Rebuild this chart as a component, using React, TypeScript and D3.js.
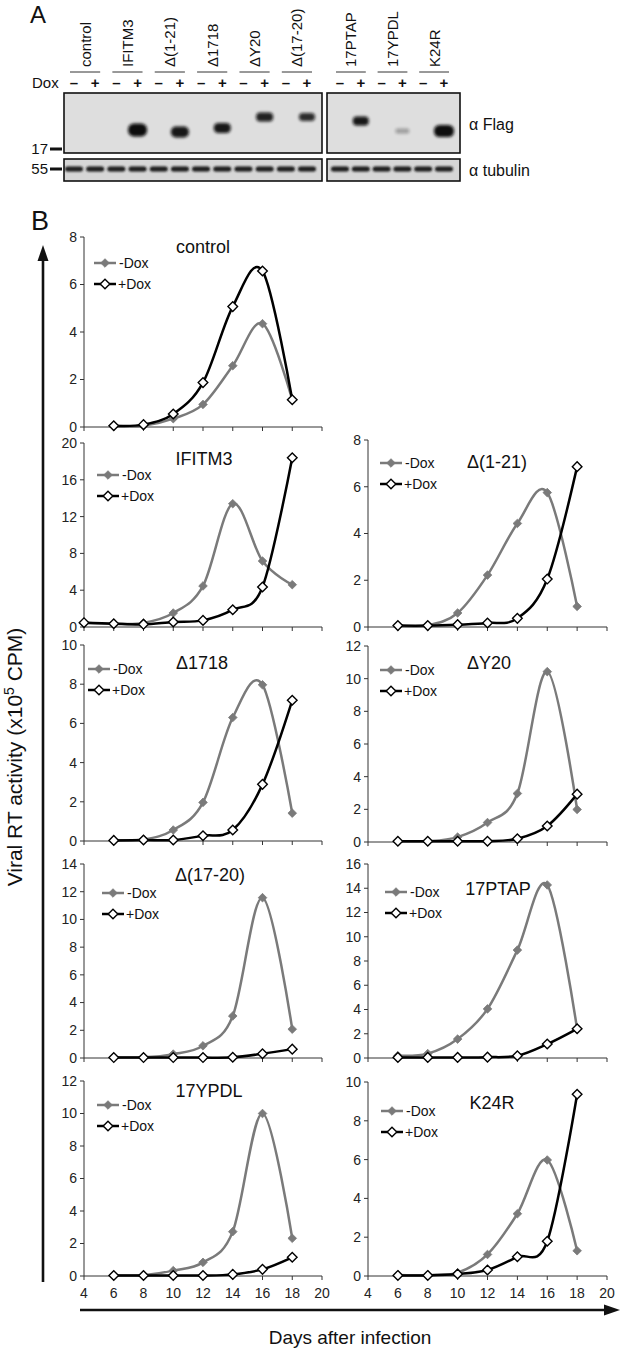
import React from "react";
import * as d3 from "d3";

// ---------------- DATA ----------------
const DAYS = [6, 8, 10, 12, 14, 16, 18];
const DAYS_IFITM3 = [4, 6, 8, 10, 12, 14, 16, 18];
const X_TICKS = [4, 6, 8, 10, 12, 14, 16, 18, 20];

const controlMinus = [0.05, 0.05, 0.35, 0.95, 2.58, 4.35, 1.15];
const controlPlus = [0.05, 0.1, 0.55, 1.87, 5.07, 6.57, 1.15];
const ifitm3Minus = [0.47, 0.36, 0.45, 1.52, 4.46, 13.4, 7.17, 4.6];
const ifitm3Plus = [0.47, 0.36, 0.29, 0.54, 0.72, 1.88, 4.35, 18.4];
const d121Minus = [0.05, 0.07, 0.6, 2.22, 4.43, 5.75, 0.88];
const d121Plus = [0.06, 0.06, 0.1, 0.17, 0.37, 2.05, 6.86];
const d1718Minus = [0.05, 0.08, 0.56, 1.97, 6.3, 7.97, 1.42];
const d1718Plus = [0.03, 0.05, 0.05, 0.27, 0.56, 2.89, 7.18];
const dY20Minus = [0.05, 0.05, 0.3, 1.19, 2.97, 10.43, 1.99];
const dY20Plus = [0.05, 0.05, 0.05, 0.05, 0.2, 0.98, 2.93];
const d1720Minus = [0.05, 0.05, 0.28, 0.88, 3.03, 11.57, 2.08];
const d1720Plus = [0.03, 0.03, 0.03, 0.03, 0.05, 0.31, 0.64];
const ptapMinus = [0.19, 0.36, 1.56, 4.05, 8.9, 14.27, 2.38];
const ptapPlus = [0.05, 0.05, 0.05, 0.07, 0.19, 1.15, 2.41];
const ypdlMinus = [0.05, 0.05, 0.33, 0.84, 2.73, 10.0, 2.32];
const ypdlPlus = [0.03, 0.03, 0.03, 0.03, 0.1, 0.41, 1.15];
const k24rMinus = [0.05, 0.05, 0.17, 1.11, 3.21, 5.98, 1.3];
const k24rPlus = [0.03, 0.03, 0.1, 0.31, 0.99, 1.79, 9.37];

const PANEL_TITLES = ["control", "IFITM3", "Δ(1-21)", "Δ1718", "ΔY20", "Δ(17-20)", "17PTAP", "17YPDL", "K24R"];
const PANEL_YMAX = [8, 20, 8, 10, 12, 14, 16, 12, 10];
const PANEL_YSTEP = [2, 4, 2, 2, 2, 2, 2, 2, 2];
const PANEL_DAYS = [DAYS, DAYS_IFITM3, DAYS, DAYS, DAYS, DAYS, DAYS, DAYS, DAYS];
const PANEL_MINUS = [controlMinus, ifitm3Minus, d121Minus, d1718Minus, dY20Minus, d1720Minus, ptapMinus, ypdlMinus, k24rMinus];
const PANEL_PLUS = [controlPlus, ifitm3Plus, d121Plus, d1718Plus, dY20Plus, d1720Plus, ptapPlus, ypdlPlus, k24rPlus];

// Blot (panel A)
const BLOT_GROUPS = ["control", "IFITM3", "Δ(1-21)", "Δ1718", "ΔY20", "Δ(17-20)", "17PTAP", "17YPDL", "K24R"];
// Flag band per + lane: relative intensity (0 = none)
const FLAG_INTENSITY = [0, 1, 0.95, 0.95, 0.9, 0.85, 0.95, 0.3, 1];

// ---------------- LAYOUT ----------------
const LEFT_X0 = 84, LEFT_X1 = 322;
const RIGHT_X0 = 368, RIGHT_X1 = 607;
const PANEL_LAYOUT = [
  { col: 0, top: 237, zero: 427, tx: 203, ty: 253, lx: 94, ly: 263 },
  { col: 0, top: 443, zero: 627, tx: 204, ty: 465, lx: 97, ly: 475 },
  { col: 1, top: 440, zero: 627, tx: 497, ty: 468, lx: 380, ly: 463 },
  { col: 0, top: 645, zero: 841, tx: 202, ty: 669, lx: 88, ly: 669 },
  { col: 1, top: 646, zero: 842, tx: 489, ty: 669, lx: 380, ly: 670 },
  { col: 0, top: 864, zero: 1058, tx: 210, ty: 881, lx: 102, ly: 893 },
  { col: 1, top: 864, zero: 1058, tx: 498, ty: 895, lx: 385, ly: 892 },
  { col: 0, top: 1081, zero: 1276, tx: 209, ty: 1097, lx: 97, ly: 1105 },
  { col: 1, top: 1082, zero: 1276, tx: 492, ty: 1109, lx: 381, ly: 1111 },
];

const FONT = "'Liberation Sans', Arial, Helvetica, sans-serif";
const GRAY = "#7a7a7a";

function Diamond({ x, y, filled }: { x: number; y: number; filled: boolean }) {
  const r = filled ? 4.3 : 4.8;
  const d = `M${x},${y - r}L${x + r},${y}L${x},${y + r}L${x - r},${y}Z`;
  return filled ? (
    <path d={d} fill={GRAY} stroke={GRAY} strokeWidth={0.8} />
  ) : (
    <path d={d} fill="#fff" stroke="#000" strokeWidth={1.4} />
  );
}

function Panel({ i }: { i: number }) {
  const L = PANEL_LAYOUT[i];
  const x0 = L.col === 0 ? LEFT_X0 : RIGHT_X0;
  const x1 = L.col === 0 ? LEFT_X1 : RIGHT_X1;
  const x = d3.scaleLinear().domain([4, 20]).range([x0, x1]);
  const y = d3.scaleLinear().domain([0, PANEL_YMAX[i]]).range([L.zero, L.top]);
  const yTicks = d3.range(0, PANEL_YMAX[i] + 0.001, PANEL_YSTEP[i]);
  const days = PANEL_DAYS[i];
  const line = d3
    .line<number>()
    .x((_, k) => x(days[k]))
    .y((v) => y(v))
    .curve(d3.curveCardinal.tension(0));
  const minus = PANEL_MINUS[i];
  const plus = PANEL_PLUS[i];
  const bottom = i >= 7;
  return (
    <g>
      <line x1={x0} x2={x0} y1={L.top} y2={L.zero} stroke="#333" strokeWidth={1} />
      <line x1={x0} x2={x1} y1={L.zero} y2={L.zero} stroke="#333" strokeWidth={1} />
      {yTicks.map((t) => (
        <g key={"y" + t}>
          <line x1={x0 - 4} x2={x0} y1={y(t)} y2={y(t)} stroke="#333" strokeWidth={1} />
          <text x={x0 - 7} y={y(t)} dy="0.35em" textAnchor="end" fontSize={14} fill="#222" fontFamily={FONT}>
            {t}
          </text>
        </g>
      ))}
      {X_TICKS.map((t) => (
        <line key={"x" + t} x1={x(t)} x2={x(t)} y1={L.zero} y2={L.zero + 4} stroke="#333" strokeWidth={1} />
      ))}
      {bottom &&
        X_TICKS.map((t) => (
          <text key={"xl" + t} x={x(t)} y={1293} dy="0.35em" textAnchor="middle" fontSize={14} fill="#222" fontFamily={FONT}>
            {t}
          </text>
        ))}
      <text x={L.tx} y={L.ty} textAnchor="middle" fontSize={18} fill="#111" fontFamily={FONT}>
        {PANEL_TITLES[i]}
      </text>
      <line x1={L.lx} x2={L.lx + 22} y1={L.ly} y2={L.ly} stroke={GRAY} strokeWidth={2.5} />
      <Diamond x={L.lx + 11} y={L.ly} filled={true} />
      <text x={L.lx + 25} y={L.ly} dy="0.35em" fontSize={14} fill="#111" fontFamily={FONT}>
        -Dox
      </text>
      <line x1={L.lx} x2={L.lx + 22} y1={L.ly + 21} y2={L.ly + 21} stroke="#000" strokeWidth={2.5} />
      <Diamond x={L.lx + 11} y={L.ly + 21} filled={false} />
      <text x={L.lx + 24} y={L.ly + 21} dy="0.35em" fontSize={14} fill="#111" fontFamily={FONT}>
        +Dox
      </text>
      <path d={line(minus) || ""} fill="none" stroke={GRAY} strokeWidth={2.5} />
      {minus.map((v, k) => (
        <Diamond key={"m" + k} x={x(days[k])} y={y(v)} filled={true} />
      ))}
      <path d={line(plus) || ""} fill="none" stroke="#000" strokeWidth={2.5} />
      {plus.map((v, k) => (
        <Diamond key={"p" + k} x={x(days[k])} y={y(v)} filled={false} />
      ))}
    </g>
  );
}

const LEFT_LANE = d3.scaleLinear().domain([0, 11]).range([74, 307]);
const RIGHT_LANE = d3.scaleLinear().domain([0, 5]).range([340, 444]);
const FLAG_BAND_Y = [0, 130, 132, 128, 117, 117, 121, 131, 131];
const FLAG_BAND_W = [0, 19, 18, 17, 17, 16, 16, 14, 20];
const FLAG_BAND_H = [0, 13, 11, 10, 9, 8, 9, 5, 12];

function laneX(g: number, plus: boolean) {
  const idx = g * 2 + (plus ? 1 : 0);
  return g < 6 ? LEFT_LANE(idx) : RIGHT_LANE(idx - 12);
}

function Blot() {
  const lanes: { x: number; plus: boolean; g: number }[] = [];
  BLOT_GROUPS.forEach((_, g) => {
    lanes.push({ x: laneX(g, false), plus: false, g });
    lanes.push({ x: laneX(g, true), plus: true, g });
  });
  return (
    <g>
      <defs>
        <filter id="blur2" x="-50%" y="-80%" width="200%" height="260%">
          <feGaussianBlur stdDeviation="1.6" />
        </filter>
        <filter id="blur1" x="-50%" y="-80%" width="200%" height="260%">
          <feGaussianBlur stdDeviation="0.9" />
        </filter>
      </defs>
      <text x={30} y={23} fontSize={24} fill="#111" fontFamily={FONT}>
        A
      </text>
      {BLOT_GROUPS.map((name, g) => {
        const cx = (laneX(g, false) + laneX(g, true)) / 2;
        return (
          <g key={name}>
            <text transform={`translate(${cx + 6},67) rotate(-90)`} fontSize={15} fill="#111" fontFamily={FONT}>
              {name}
            </text>
            <line x1={laneX(g, false) - 4} x2={laneX(g, true) + 5} y1={72} y2={72} stroke="#333" strokeWidth={1} />
          </g>
        );
      })}
      <text x={32} y={83} dy="0.35em" fontSize={15} fill="#111" fontFamily={FONT}>
        Dox
      </text>
      {lanes.map((l, k) => (
        <text key={"pm" + k} x={l.x} y={83} dy="0.35em" textAnchor="middle" fontSize={15} fontWeight="bold" fill="#111" fontFamily={FONT}>
          {l.plus ? "+" : "–"}
        </text>
      ))}
      <rect x={64} y={93} width={258} height={60} fill="#dedede" stroke="#111" strokeWidth={1.6} />
      <rect x={327} y={93} width={133} height={60} fill="#dedede" stroke="#111" strokeWidth={1.6} />
      <rect x={64} y={159} width={258} height={22} fill="#d6d6d6" stroke="#111" strokeWidth={1.6} />
      <rect x={327} y={159} width={133} height={22} fill="#d6d6d6" stroke="#111" strokeWidth={1.6} />
      {BLOT_GROUPS.map((name, g) =>
        FLAG_INTENSITY[g] > 0 ? (
          <rect
            key={"fb" + name}
            x={laneX(g, true) - FLAG_BAND_W[g] / 2}
            y={FLAG_BAND_Y[g] - FLAG_BAND_H[g] / 2}
            width={FLAG_BAND_W[g]}
            height={FLAG_BAND_H[g]}
            rx={FLAG_BAND_H[g] / 2.2}
            fill="#0d0d0d"
            opacity={FLAG_INTENSITY[g]}
            filter="url(#blur2)"
          />
        ) : null
      )}
      {lanes.map((l, k) => (
        <rect key={"tb" + k} x={l.x - 9} y={166.5} width={18} height={5} rx={2.5} fill="#1a1a1a" filter="url(#blur1)" />
      ))}
      <text x={48} y={149} dy="0.35em" textAnchor="end" fontSize={15} fill="#111" fontFamily={FONT}>
        17
      </text>
      <rect x={50} y={147.5} width={12} height={3} fill="#111" />
      <text x={48} y={169} dy="0.35em" textAnchor="end" fontSize={15} fill="#111" fontFamily={FONT}>
        55
      </text>
      <rect x={50} y={167.5} width={12} height={3} fill="#111" />
      <text x={469} y={124} dy="0.35em" fontSize={16} fill="#111" fontFamily={FONT}>
        α Flag
      </text>
      <text x={469} y={170} dy="0.35em" fontSize={16} fill="#111" fontFamily={FONT}>
        α tubulin
      </text>
    </g>
  );
}

export default function App() {
  return (
    <svg width={622} height={1350} viewBox="0 0 622 1350" style={{ position: "absolute", left: 0, top: 0, background: "#fff" }}>
      <rect width={622} height={1350} fill="#fff" />
      <Blot />
      <text x={31} y={230} fontSize={27} fill="#111" fontFamily={FONT}>
        B
      </text>
      <line x1={43} x2={43} y1={258} y2={1282} stroke="#111" strokeWidth={2.6} />
      <path d="M43,245L37.5,261L48.5,261Z" fill="#111" />
      <line x1={80} x2={606} y1={1310} y2={1310} stroke="#111" strokeWidth={2.6} />
      <path d="M620,1310L604,1304.5L604,1315.5Z" fill="#111" />
      <text x={350} y={1337} dy="0.35em" textAnchor="middle" fontSize={19} fill="#111" fontFamily={FONT}>
        Days after infection
      </text>
      <text transform="translate(22,757) rotate(-90)" textAnchor="middle" fontSize={21} fill="#111" fontFamily={FONT}>
        Viral RT activity (x10
        <tspan dy={-8} fontSize={14}>5</tspan>
        <tspan dy={8}> CPM)</tspan>
      </text>
      {PANEL_TITLES.map((_, i) => (
        <Panel key={i} i={i} />
      ))}
    </svg>
  );
}
